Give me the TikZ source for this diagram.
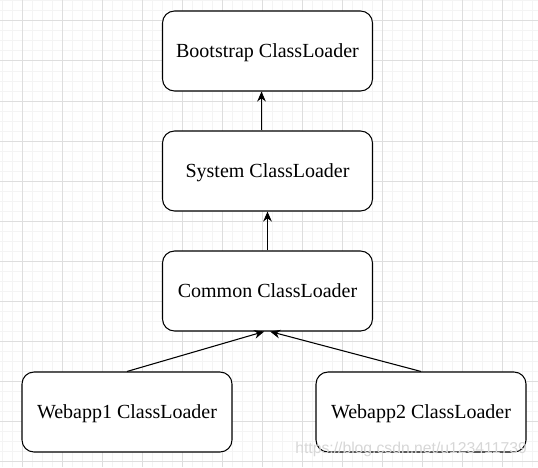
\documentclass[tikz,border=0pt]{standalone}
\usepackage{fontspec}
\setmainfont{Liberation Serif}
\newfontfamily\markfont{Liberation Sans}
\definecolor{gridmajor}{RGB}{222,222,222}
\definecolor{gridminor}{RGB}{244,244,244}
\definecolor{markgray}{RGB}{215,215,215}
\usetikzlibrary{arrows.meta,positioning,calc}

\begin{document}
\begin{tikzpicture}[x=0.75pt,y=-0.75pt,
    loader/.style={draw,fill=white,rounded corners=9pt,line width=0.8pt,
        minimum width=157.5pt,minimum height=60pt,inner sep=0pt,text depth=0pt,
        font=\fontsize{15}{18}\selectfont},
    link/.style={-{Stealth[length=7.5pt,width=6.5pt]},line width=0.8pt}]
  \useasboundingbox (0,0) rectangle (538,467);
  % Grid paper
  \fill[white] (0,0) rectangle (538,467);
  \foreach \x in {2,12,...,532} \draw[gridminor,line width=0.75pt] (\x,0) -- (\x,467);
  \foreach \y in {1,11,...,461} \draw[gridminor,line width=0.75pt] (0,\y) -- (538,\y);
  \foreach \x in {22,62,...,502} \draw[gridmajor,line width=0.75pt] (\x,0) -- (\x,467);
  \foreach \y in {21,61,...,461} \draw[gridmajor,line width=0.75pt] (0,\y) -- (538,\y);
  % Class loaders
  \node[loader] (boot) at (267.5,51) {Bootstrap ClassLoader};
  \node[loader] (sys) at (267.5,171) {System ClassLoader};
  \node[loader] (common) at (267.5,291) {Common ClassLoader};
  \node[loader] (web1) at (127,412) {Webapp1 ClassLoader};
  \node[loader] (web2) at (421,412) {Webapp2 ClassLoader};
  % Parent links
  \draw[link] ([xshift=-4.5pt]sys.north) -- ([xshift=-4.5pt]boot.south);
  \draw[link] (common.north) -- (sys.south);
  \draw[link] (web1.north) -- ([xshift=-2.5pt]common.south);
  \draw[link] (web2.north) -- ([xshift=2pt]common.south);
  % Watermark
  \node[font=\markfont\fontsize{11.8}{12}\selectfont,text=markgray,anchor=base west,inner sep=0pt]
        (mark) at (295,453) {https://blog.csdn.net/u123411739};
\end{tikzpicture}
\end{document}
